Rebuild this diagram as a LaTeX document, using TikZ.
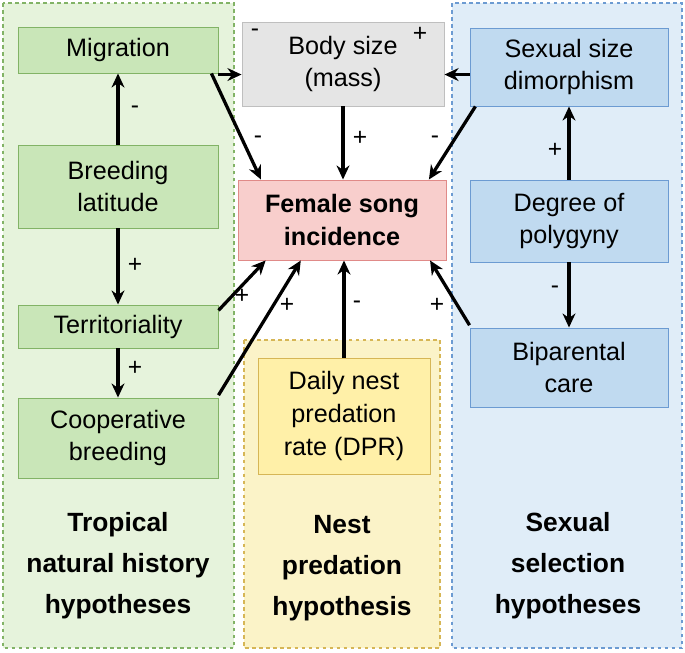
\documentclass[tikz,border=0pt]{standalone}
\usepackage{fontspec}
\setmainfont{Liberation Sans}
\usetikzlibrary{arrows.meta}
\definecolor{gfill}{HTML}{C9E6B8}\definecolor{gdraw}{HTML}{82B366}
\definecolor{gbg}{HTML}{E6F3DC}
\definecolor{bfill}{HTML}{C0DAF0}\definecolor{bdraw}{HTML}{6C9BD2}
\definecolor{bbg}{HTML}{E0EDF8}
\definecolor{yfill}{HTML}{FFF0A8}\definecolor{ydraw}{HTML}{D6B656}
\definecolor{ybg}{HTML}{FBF3C8}
\definecolor{pfill}{HTML}{F8CECC}\definecolor{pdraw}{HTML}{E08A88}
\begin{document}
\begin{tikzpicture}[x=0.03cm,y=-0.03cm,
  every node/.style={font=\fontsize{21.5}{28}\selectfont,align=center,inner sep=0pt},
  box/.style={draw,line width=0.8pt,minimum width=6cm},
  g/.style={box,fill=gfill,draw=gdraw},
  b/.style={box,fill=bfill,draw=bdraw},
  region/.style={dashed,line width=0.9pt},
  ar/.style={-{Stealth[length=12pt,width=11pt]},line width=2.8pt},
  sg/.style={font=\fontsize{21}{21}\selectfont}]
\useasboundingbox (0,0) rectangle (685,652);
\draw[region,fill=gbg,draw=gdraw] (3,3) rectangle (234,648);
\draw[region,fill=ybg,draw=ydraw] (244,340) rectangle (440,648);
\draw[region,fill=bbg,draw=bdraw] (452,3) rectangle (682,648);
\node[g,minimum height=1.38cm] (mig) at (118,50) {Migration};
\node[g,minimum height=2.49cm] (lat) at (118,186.5) {Breeding\\latitude};
\node[g,minimum height=1.29cm] (ter) at (118,326.5) {Territoriality};
\node[g,minimum height=2.4cm] (coop) at (118,438) {Cooperative\\breeding};
\node[box,fill=black!10,draw=black!25,minimum width=6.06cm,minimum height=2.52cm] (body) at (343,64) {Body size\\(mass)};
\node[box,fill=pfill,draw=pdraw,minimum width=6.24cm,minimum height=2.4cm,font=\fontsize{21.5}{28}\selectfont\bfseries] (fs) at (342,220) {Female song\\incidence};
\node[box,fill=yfill,draw=ydraw,minimum width=5.16cm,minimum height=3.48cm] (dpr) at (344,416) {Daily nest\\predation\\rate (DPR)};
\node[b,minimum width=5.94cm,minimum height=2.34cm] (ssd) at (569,67) {Sexual size\\dimorphism};
\node[b,minimum width=5.94cm,minimum height=2.46cm] (poly) at (569,221) {Degree of\\polygyny};
\node[b,minimum width=5.94cm,minimum height=2.37cm] (bip) at (569,367.5) {Biparental\\care};
\node[font=\fontsize{22.5}{35}\selectfont\bfseries] (t1) at (118,566) {Tropical\\natural history\\hypotheses};
\node[font=\fontsize{22.5}{35}\selectfont\bfseries] (t2) at (342,568) {Nest\\predation\\hypothesis};
\node[font=\fontsize{22.5}{35}\selectfont\bfseries] (t3) at (568,566) {Sexual\\selection\\hypotheses};
% arrows
\coordinate (bw) at ([yshift=-9]body.west);
\coordinate (be) at ([yshift=-9]body.east);
\draw[ar] (mig.east |- bw) -- (bw);
\node[sg] at (255,33) {-};
\draw[ar] (ssd.west |- be) -- (be);
\node[sg] at (420,34) {+};
\draw[ar] ([xshift=-6]mig.south east) -- ([xshift=20]fs.north west);
\node[sg] at (258,140) {-};
\draw[ar] (body.south) -- (body.south |- fs.north);
\node[sg] at (360,138) {+};
\draw[ar] ([xshift=5]ssd.south west) -- ([xshift=-15]fs.north east);
\node[sg] at (435,140) {-};
\draw[ar] (lat.north) -- (mig.south);
\node[sg] at (135,110) {-};
\draw[ar] (lat.south) -- (ter.north);
\node[sg] at (135,265) {+};
\draw[ar] (ter.south) -- (coop.north);
\node[sg] at (135,368) {+};
\draw[ar] ([yshift=-5]ter.north east) -- ([xshift=24]fs.south west);
\node[sg] at (242,296) {+};
\draw[ar] ([yshift=2]coop.north east) -- ([xshift=54]fs.south west);
\node[sg] at (287,305) {+};
\draw[ar] (dpr.north) -- (dpr.north |- fs.south);
\node[sg] at (357,305) {-};
\draw[ar] (poly.north) -- (ssd.south);
\node[sg] at (555,150) {+};
\draw[ar] (poly.south) -- (bip.north);
\node[sg] at (555,290) {-};
\draw[ar] ([yshift=2]bip.north west) -- ([xshift=-14]fs.south east);
\node[sg] at (437,305) {+};
\end{tikzpicture}
\end{document}
